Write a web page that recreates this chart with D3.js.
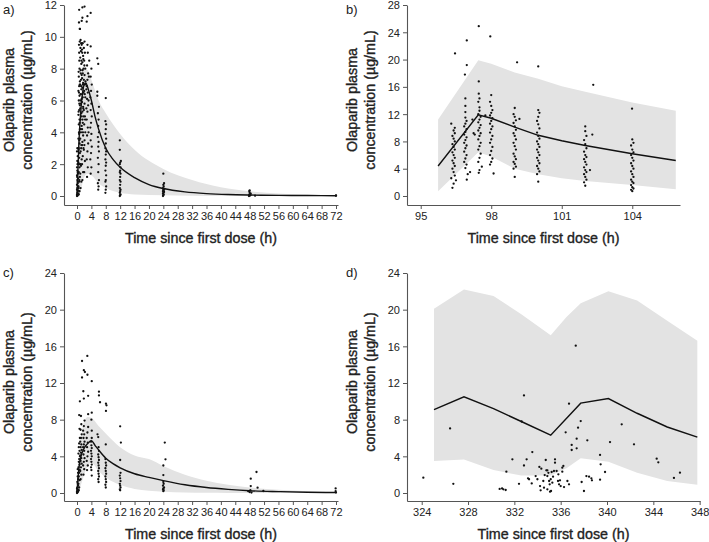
<!DOCTYPE html>
<html><head><meta charset="utf-8">
<script src="https://cdn.jsdelivr.net/npm/d3@7"></script>
<style>body{margin:0;background:#fff} svg{display:block}</style></head>
<body>
<svg id="chart" width="709" height="542"></svg>
<script>
// ---------- Panel a) : single dose, 0-72 h ----------
const aPoints = [
[0,0],[0.1,0.02],[0.2,0.05],[0,0.1],[0.3,0.15],[0.1,0.2],[0.2,0.3],[0,0.4],[0.1,0.5],[0.3,0.6],[0,0.7],[0.2,0.8],[0.1,1.0],[0.3,1.1],[0,1.3],[0.2,1.5],[0.1,1.6],[0,1.8],[0.3,2.0],[0.1,2.2],[0.2,2.5],[0,2.8],[0.1,3.0],
[0.3,0.35],[0.2,0.9],[0.05,1.2],[0.25,1.4],[0.15,2.0],
[0.5,0.1],[0.7,0.3],[0.4,0.6],[0.6,0.9],[0.8,1.2],[0.5,1.5],[0.7,1.8],[0.4,2.1],[0.6,2.4],[0.8,2.7],[0.5,3.0],[0.7,3.3],[0.4,3.6],[0.6,3.9],[0.8,4.2],[0.5,4.5],[0.7,4.8],[0.4,5.1],[0.6,5.4],[0.8,5.7],[0.5,6.0],[0.7,6.3],[0.4,6.6],[0.6,6.9],[0.8,7.2],[0.5,7.5],[0.7,8.0],[0.6,9.0],[0.8,10.5],[0.55,10.9],[0.6,11.7],
[0.45,0.5],[0.65,1.0],[0.75,2.0],[0.45,2.9],[0.65,3.5],[0.55,4.0],[0.75,4.6],[0.45,5.3],[0.65,5.8],[0.55,6.5],[0.75,7.0],[0.45,7.8],[0.65,8.5],[0.55,9.5],[0.75,9.7],
[1.0,0.5],[1.2,0.9],[0.9,1.4],[1.1,1.9],[1.3,2.3],[1.0,2.8],[1.2,3.2],[0.9,3.6],[1.1,4.0],[1.3,4.4],[1.0,4.8],[1.2,5.2],[0.9,5.5],[1.1,5.8],[1.3,6.1],[1.0,6.4],[1.2,6.7],[0.9,7.0],[1.1,7.3],[1.3,7.6],[1.0,7.9],[1.2,8.3],[0.9,8.7],[1.1,9.1],[1.3,9.5],[1.0,9.8],[0.8,10.5],[1.3,11.0],
[0.95,2.0],[1.15,3.0],[1.05,4.2],[1.25,5.0],[0.95,6.0],[1.15,6.9],[1.05,7.7],[1.25,8.5],[0.95,9.3],[1.15,9.6],
[1.5,1.0],[1.7,1.5],[1.4,2.0],[1.6,2.5],[1.8,3.0],[1.5,3.4],[1.7,3.8],[1.4,4.2],[1.6,4.6],[1.8,5.0],[1.5,5.3],[1.7,5.6],[1.4,5.9],[1.6,6.2],[1.8,6.5],[1.5,6.8],[1.7,7.1],[1.4,7.4],[1.6,7.7],[1.8,8.0],[1.5,8.4],[1.7,8.8],[1.4,9.2],[1.6,9.6],[1.5,11.2],[1.5,11.85],
[1.45,3.2],[1.65,4.0],[1.55,4.8],[1.75,5.5],[1.45,6.4],[1.65,7.0],[1.55,7.9],[1.75,8.6],[1.45,9.0],
[2.0,1.5],[2.2,2.2],[1.9,2.9],[2.1,3.5],[2.3,4.0],[2.0,4.5],[2.2,5.0],[1.9,5.4],[2.1,5.8],[2.3,6.2],[2.0,6.6],[2.2,7.0],[1.9,7.3],[2.1,7.6],[2.3,8.0],[2.0,8.5],[2.2,9.0],[1.9,9.3],[2.1,9.7],[2.1,11.9],
[2.05,3.2],[2.25,4.8],[2.15,6.4],[2.35,7.2],[2.05,8.2],[2.6,5.5],[2.6,6.7],
[2.8,1.2],[3.0,1.8],[2.7,2.3],[2.9,2.8],[3.1,3.3],[2.8,3.8],[3.0,4.3],[2.7,4.8],[2.9,5.3],[3.1,5.7],[2.8,6.1],[3.0,6.5],[2.7,6.9],[2.9,7.3],[3.1,7.7],[2.8,8.2],[3.0,9.0],[2.9,9.5],[2.7,10.95],[2.9,11.3],
[3.2,4.0],[3.2,6.0],[3.3,7.5],[3.4,8.5],
[3.8,1.4],[4.0,1.8],[3.7,2.3],[3.9,2.7],[4.1,3.1],[3.8,3.5],[4.0,3.9],[3.7,4.3],[3.9,4.6],[4.1,5.0],[3.8,5.4],[4.0,5.8],[3.7,6.2],[3.9,6.6],[4.1,7.0],[3.8,7.5],[4.0,8.0],[3.8,9.4],[3.8,11.5],
[5.9,0.4],[6.0,0.6],[5.8,0.8],[6.1,1.0],[5.9,1.5],[6.0,2.0],[5.8,2.4],[6.1,2.8],[5.9,3.1],[6.0,3.4],[5.8,3.7],[6.1,4.0],[5.9,4.4],[6.0,4.8],[5.8,5.2],[6.1,5.6],[5.65,6.3],[5.65,6.55],[5.9,8.3],[5.65,8.65],
[7.9,0.2],[8.0,0.4],[8.1,0.6],[7.9,0.9],[8.0,1.0],[8.1,1.3],[7.9,1.6],[8.0,1.9],[8.1,2.1],[7.9,2.3],[8.0,2.6],[8.1,2.8],[7.9,3.0],[8.0,3.3],[8.1,3.6],[7.9,3.9],[8.0,4.2],[8.1,4.5],[7.9,4.7],[8.0,6.15],
[11.9,0],[12.0,0.05],[12.1,0.1],[11.9,0.2],[12.0,0.3],[12.1,0.4],[11.9,0.5],[12.0,0.7],[12.1,0.9],[11.9,1.0],[12.0,1.2],[12.1,1.4],[11.9,1.5],[12.0,1.6],[12.1,1.8],[11.9,2.0],[12.0,2.1],[12.2,2.2],[11.9,2.9],[11.9,3.5],
[23.9,0],[24.0,0.05],[24.1,0.1],[23.9,0.15],[24.0,0.2],[24.2,0.25],[23.9,0.3],[24.1,0.35],[24.0,0.4],[24.3,0.45],[23.9,0.5],[24.1,0.6],[24.0,0.7],[24.2,0.8],[24.0,1.4],
[47.8,0],[48.0,0.02],[48.2,0.05],[47.9,0.08],[48.1,0.1],[48.3,0.15],[48.0,0.2],[47.9,0.3],[48.0,0.35],[49.5,0.02],
[72,0.02],[72,0.03]
];
const aBandT  = [0, 0.5, 1, 2, 3, 4, 6, 8, 12, 16, 24, 32, 40, 48, 56, 64, 72];
const aBandHi = [0, 3.0, 5.5, 8.0, 7.9, 7.3, 6.0, 5.2, 3.9, 2.9, 1.7, 1.0, 0.55, 0.3, 0.15, 0.08, 0.05];
const aBandLo = [0, 0, 0.3, 1.2, 1.4, 1.3, 0.8, 0.5, 0.2, 0.1, 0.05, 0.02, 0, 0, 0, 0, 0];
const aMedT = [0, 0.5, 1, 1.5, 2, 2.5, 3, 4, 5, 6, 8, 10, 12, 16, 20, 24, 30, 36, 42, 48, 56, 64, 72];
const aMedV = [0, 3.2, 5.2, 6.4, 7.0, 7.1, 6.8, 6.0, 5.0, 4.2, 3.0, 2.3, 1.8, 1.15, 0.72, 0.47, 0.26, 0.15, 0.09, 0.06, 0.04, 0.03, 0.02];
const aXTicks = [0,4,8,12,16,20,24,28,32,36,40,44,48,52,56,60,64,68,72];
const aYTicks = [0,2,4,6,8,10,12];

// ---------- Panel b) : steady state, 96-106 h ----------
const bPoints = [
[96.35,1.2],[96.4,1.8],[96.5,2.3],[96.3,2.6],[96.45,3.0],[96.4,3.5],[96.35,4.0],[96.45,4.4],[96.4,4.8],[96.35,5.2],[96.45,5.6],[96.4,6.0],[96.35,6.4],[96.45,6.8],[96.4,7.2],[96.35,7.6],[96.45,8.0],[96.4,8.4],[96.35,8.8],[96.45,9.2],[96.4,9.6],[96.45,10.0],[96.3,10.6],[96.46,20.9],
[96.96,2.4],[97.0,3.2],[97.1,3.5],[96.9,4.1],[96.95,4.6],[96.85,5.0],[96.9,5.5],[96.95,6.0],[96.85,6.5],[96.9,7.0],[96.95,7.4],[96.85,7.8],[96.9,8.2],[96.95,8.6],[96.85,9.0],[96.9,9.4],[96.95,9.8],[96.85,10.2],[96.9,10.6],[96.95,11.0],[96.9,11.5],[96.9,12.3],[96.9,13.2],[96.9,14.3],[96.88,17.8],[96.96,19.2],[96.96,22.8],[97.25,9.2],[97.2,11.2],[97.3,9.0],
[97.47,3.4],[97.5,3.8],[97.6,4.3],[97.45,5.0],[97.5,5.6],[97.55,6.2],[97.45,6.8],[97.5,7.3],[97.55,7.8],[97.45,8.3],[97.5,8.8],[97.55,9.2],[97.45,9.6],[97.5,10.0],[97.55,10.4],[97.45,10.8],[97.5,11.2],[97.55,11.6],[97.45,12.0],[97.5,12.5],[97.5,13.0],[97.45,13.8],[97.5,14.3],[97.47,15.0],[97.47,16.8],[97.47,24.9],
[98.1,3.3],[97.95,4.6],[98.0,5.0],[98.05,5.5],[97.95,6.0],[98.0,6.6],[98.05,7.2],[97.95,7.8],[98.0,8.3],[98.05,8.8],[97.95,9.3],[98.0,9.8],[98.05,10.2],[97.95,10.6],[98.0,11.0],[98.05,11.4],[97.95,11.8],[98.0,12.2],[98.05,12.6],[98.0,13.2],[97.95,13.8],[98.0,14.8],[97.96,23.4],[97.75,11.8],
[99.0,2.8],[98.95,4.0],[99.05,4.3],[99.0,4.7],[98.95,5.0],[99.05,5.4],[99.0,5.8],[98.95,6.2],[99.05,6.8],[99.0,7.3],[98.95,7.8],[99.05,8.3],[99.0,8.8],[98.95,9.2],[99.05,9.7],[99.0,10.2],[98.95,10.7],[99.05,11.1],[99.0,11.6],[98.95,12.0],[99.0,12.9],[99.1,19.6],[99.2,11.3],
[100.0,2.1],[99.95,3.2],[100.05,3.6],[100.0,4.0],[99.95,4.4],[100.05,4.8],[100.0,5.2],[99.95,5.6],[100.05,6.0],[100.0,6.4],[99.95,6.8],[100.05,7.2],[100.0,7.6],[99.95,8.0],[100.05,8.4],[100.0,8.8],[99.95,9.3],[100.05,9.9],[100.0,10.5],[99.95,11.0],[100.0,11.6],[100.05,12.2],[100.0,12.6],[100.0,19.0],
[102.0,1.5],[101.95,2.0],[102.05,2.4],[102.0,2.8],[101.95,3.2],[102.05,3.5],[102.0,3.8],[101.95,4.2],[102.05,4.6],[102.0,5.0],[101.95,5.4],[102.05,5.7],[102.0,6.0],[101.95,6.5],[102.05,7.0],[102.0,7.6],[101.95,8.2],[102.05,8.8],[102.0,9.5],[102.0,10.2],[102.3,9.0],[102.34,16.3],[102.2,3.8],
[104.0,0.7],[103.95,0.9],[104.05,1.1],[104.0,1.3],[103.95,1.6],[104.05,1.9],[104.0,2.1],[103.95,2.4],[104.05,2.8],[104.0,3.2],[103.95,3.6],[104.05,4.0],[104.0,4.4],[103.95,4.8],[104.05,5.2],[104.0,5.6],[103.95,6.0],[104.05,6.4],[104.0,6.8],[103.95,7.4],[104.05,7.8],[104.0,8.3],[103.99,12.8]
];
const bBandT  = [95.74, 97.45, 98.0, 99.0, 100.0, 101.0, 102.0, 104.0, 105.85];
const bBandHi = [11.2, 19.9, 19.4, 18.1, 17.2, 16.1, 15.3, 13.7, 12.5];
const bBandLo = [0.7, 6.4, 5.8, 4.0, 3.2, 2.6, 2.2, 1.6, 1.0];
const bMedT = [95.74, 97.45, 98.0, 99.0, 100.0, 101.0, 102.0, 104.0, 105.85];
const bMedV = [4.4, 11.9, 11.4, 10.1, 8.9, 8.1, 7.4, 6.2, 5.2];
const bXTicks = [95, 98, 101, 104];
const bYTicks = [0,4,8,12,16,20,24,28];

// ---------- Panel c) : single dose, 0-72 h ----------
const cPoints = [
[0,0],[0.1,0.05],[0.2,0.1],[0,0.15],[0.3,0.2],[0.1,0.3],[0.2,0.4],[0,0.5],[0.1,0.6],[0.3,0.8],[0.2,1.0],[0.1,1.2],[0.3,1.5],[0.2,1.8],[0.3,2.2],[0.2,2.6],
[0.5,0.3],[0.6,0.6],[0.4,1.0],[0.7,1.4],[0.5,1.8],[0.6,2.2],[0.8,2.5],[0.4,2.8],[0.7,3.1],[0.5,3.4],[0.6,3.7],[0.8,4.0],[0.4,4.3],[0.7,4.6],[0.5,5.0],[0.6,5.4],[0.8,6.0],[0.7,7.0],[0.6,8.5],[0.8,10.0],
[1.0,1.5],[1.2,2.0],[0.9,2.4],[1.1,2.8],[1.3,3.2],[1.0,3.5],[1.2,3.8],[0.9,4.1],[1.1,4.4],[1.3,4.7],[1.0,5.0],[1.2,5.3],[0.9,5.6],[1.1,6.0],[1.3,6.4],[1.0,6.9],[1.2,7.5],[1.1,8.4],[1.4,12.6],[1.4,14.4],
[1.8,2.0],[2.0,2.6],[1.7,3.0],[1.9,3.4],[2.1,3.8],[1.8,4.2],[2.0,4.6],[1.7,5.0],[1.9,5.3],[2.1,5.6],[1.8,6.0],[2.0,6.4],[1.7,6.8],[1.9,7.3],[2.1,7.9],[1.9,10.3],[1.76,11.1],[2.2,13.2],[1.9,13.4],
[2.8,2.5],[3.0,3.0],[2.7,3.5],[2.9,4.0],[3.1,4.5],[2.8,5.0],[3.0,5.5],[2.7,6.0],[2.9,6.6],[3.1,7.2],[3.1,8.6],[3.1,10.6],[2.9,12.9],[2.87,14.95],
[4.1,1.9],[4.0,2.5],[3.9,2.8],[4.1,3.1],[4.0,3.4],[3.9,3.7],[4.1,4.0],[4.0,4.3],[3.9,4.6],[4.1,4.9],[4.0,5.2],[3.9,5.6],[4.1,6.0],[4.1,6.8],[4.0,8.0],[4.1,8.76],[4.1,12.2],
[6.0,1.2],[5.9,1.5],[6.1,1.8],[6.0,2.1],[5.9,2.4],[6.1,2.7],[6.0,3.0],[5.9,3.3],[6.1,3.6],[6.0,3.9],[5.9,4.2],[6.1,4.6],[6.0,5.0],[5.9,6.1],[5.7,6.4],[6.4,9.9],[6.1,10.65],[6.1,11.05],
[8.0,0.6],[7.9,0.9],[8.1,1.2],[8.0,1.5],[7.9,1.8],[8.1,2.1],[8.0,2.4],[7.9,2.7],[8.1,3.0],[8.0,3.3],[7.9,3.7],[8.0,5.3],[8.05,8.95],[8.2,9.56],[8.05,9.75],
[12.0,0.3],[11.9,0.4],[12.1,0.6],[12.0,0.8],[11.9,1.0],[12.1,1.3],[12.0,1.6],[11.9,1.9],[12.1,2.2],[12.0,3.6],[12.2,5.5],[12.0,7.27],
[24.0,0.2],[24.1,0.3],[23.9,0.4],[24.0,0.5],[24.2,0.6],[23.9,0.8],[24.1,1.0],[24.0,1.2],[24.0,1.96],[24.0,3.0],[24.6,3.67],[24.4,5.5],
[47.6,0.2],[48,0.1],[48.2,0.3],[48.3,0.76],[48.3,1.56],[48.5,0.05],[49.9,2.29],[50.2,0.58],[51.8,0.22],
[71.9,0.5],[71.9,0.2],[72,0.05]
];
const cBandT  = [0, 0.5, 1, 2, 3, 4, 6, 8, 12, 16, 20, 24, 30, 36, 42, 48, 56, 64, 72];
const cBandHi = [0, 3.0, 5.5, 7.8, 8.3, 8.2, 7.3, 6.5, 5.0, 4.1, 3.7, 2.95, 2.0, 1.35, 0.9, 0.6, 0.35, 0.2, 0.12];
const cBandLo = [0, 0.2, 0.8, 2.0, 3.0, 3.3, 2.4, 1.7, 0.9, 0.45, 0.25, 0.15, 0.05, 0.02, 0, 0, 0, 0, 0];
const cMedT = [0, 0.5, 1, 2, 3, 4, 5, 6, 8, 10, 12, 16, 20, 24, 30, 36, 42, 48, 56, 64, 72];
const cMedV = [0, 2.6, 3.8, 4.9, 5.4, 5.7, 5.2, 4.7, 3.8, 3.2, 2.75, 2.1, 1.7, 1.35, 0.9, 0.6, 0.4, 0.25, 0.15, 0.08, 0.05];
const cXTicks = [0,4,8,12,16,20,24,28,32,36,40,44,48,52,56,60,64,68,72];
const cYTicks = [0,4,8,12,16,20,24];

// ---------- Panel d) : 324-348 h ----------
const dPoints = [
[324.14,1.67],[326.45,7.05],[326.73,1.0],[330.73,0.44],[330.94,0.5],[331.05,0.4],[331.25,0.33],[331.31,2.33],[331.83,3.67],[332.40,1.0],
[332.63,7.8],[332.83,10.65],[332.83,3.0],[333.06,3.67],[333.18,1.6],[333.27,1.5],[333.55,4.47],[333.5,1.05],[333.84,1.85],[333.99,1.5],
[334.16,2.84],[334.33,2.65],[334.22,0.76],[334.27,0.29],[334.5,1.31],[334.56,0.58],[334.62,1.96],[334.71,3.6],[334.76,2.47],[334.85,2.47],
[334.85,1.85],[334.94,2.2],[335.0,1.31],[335.05,0.95],[334.85,0.4],[335.08,0.15],[335.17,0.22],[335.14,1.5],[335.22,2.29],[335.34,1.78],
[335.42,2.4],[335.28,1.13],[335.51,3.67],[335.51,3.31],[335.65,2.4],[335.8,2.04],[335.77,1.31],[335.86,0.95],[335.94,1.38],[336.0,0.76],
[336.14,2.33],[336.23,2.95],[336.14,2.76],[336.29,0.65],[336.43,6.62],[336.58,1.31],[336.72,0.95],[336.72,9.75],[336.95,5.24],[336.95,4.69],
[337.30,16.07],[337.38,4.87],[337.38,5.93],[337.5,7.13],[337.73,7.85],[337.81,1.2],[338.01,0.22],[338.22,1.85],[338.30,5.75],[338.45,1.78],
[338.65,1.6],[338.7,1.38],[339.4,4.15],[339.45,3.13],[339.4,1.45],[339.83,2.29],[340.26,5.56],[341.27,7.49],[342.33,5.31],[344.29,3.75],
[344.43,3.35],[345.78,1.64],[346.30,2.22]
];
const dBandT  = [325.06, 327.65, 330.2, 332.6, 335.14, 336.5, 337.73, 340.12, 342.6, 345.2, 347.8];
const dBandHi = [20.1, 22.2, 21.5, 19.5, 17.2, 19.2, 20.7, 22.0, 21.0, 18.8, 16.6];
const dBandLo = [3.5, 3.65, 2.5, 1.9, 1.9, 2.7, 3.8, 3.4, 2.2, 1.3, 0.9];
const dMedT = [325.06, 327.65, 330.2, 332.6, 335.14, 337.73, 340.12, 342.6, 345.2, 347.8];
const dMedV = [9.1, 10.5, 9.2, 7.8, 6.3, 9.8, 10.3, 8.7, 7.2, 6.1];
const dXTicks = [324,328,332,336,340,344,348];
const dYTicks = [0,4,8,12,16,20,24];

const panelLabels = ["a)", "b)", "c)", "d)"];
const xTitle = "Time since first dose (h)";
const yTitle1 = "Olaparib plasma";
const yTitle2 = "concentration (\u00b5g/mL)";

// ---------- drawing ----------
const FONT = '"Liberation Sans", Arial, Helvetica, sans-serif';
const svg = d3.select('#chart');
svg.append('rect').attr('width',709).attr('height',542).attr('fill','#fff');

function panel(cfg){
  const g = svg.append('g');
  const x = d3.scaleLinear().domain(cfg.xDomain).range(cfg.xRange);
  const y = d3.scaleLinear().domain(cfg.yDomain).range(cfg.yRange);

  const band = cfg.bandT.map((t,i)=>({t, lo:cfg.bandLo[i], hi:cfg.bandHi[i]}));
  g.append('path').datum(band)
    .attr('d', d3.area().x(d=>x(d.t)).y0(d=>y(d.lo)).y1(d=>y(d.hi)).curve(cfg.curve))
    .attr('fill','#e3e3e3');

  g.append('g').selectAll('circle').data(cfg.points).join('circle')
    .attr('cx', d=>x(d[0])).attr('cy', d=>y(d[1])).attr('r',1.15).attr('fill','#111');

  const med = cfg.medT.map((t,i)=>[t, cfg.medV[i]]);
  g.append('path').datum(med)
    .attr('d', d3.line().x(d=>x(d[0])).y(d=>y(d[1])).curve(cfg.curve))
    .attr('fill','none').attr('stroke','#111').attr('stroke-width',1.4);

  const xa = g.append('g').attr('transform',`translate(0,${cfg.yRange[0]})`)
    .call(d3.axisBottom(x).tickValues(cfg.xTicks).tickSize(4).tickSizeOuter(0).tickPadding(3).tickFormat(d3.format('d')));
  const ya = g.append('g').attr('transform',`translate(${cfg.xRange[0]},0)`)
    .call(d3.axisLeft(y).tickValues(cfg.yTicks).tickSize(4).tickSizeOuter(0).tickPadding(3).tickFormat(d3.format('d')));
  [xa, ya].forEach(a=>{
    a.selectAll('path.domain').attr('stroke','#555').attr('stroke-width',1.1);
    a.selectAll('.tick line').attr('stroke','#555');
    a.selectAll('.tick text').attr('fill','#222').style('font-family',FONT).style('font-size','11px');
  });
  ya.selectAll('.tick text').attr('dy','0.36em');

  const midX = (cfg.xRange[0]+cfg.xRange[1])/2;
  g.append('text').attr('x', midX).attr('y', cfg.yRange[0]+38)
    .attr('text-anchor','middle').attr('fill','#222').attr('stroke','#222').attr('stroke-width',0.35)
    .style('font-family',FONT).style('font-size','14.3px').text(xTitle);
  const midY = (cfg.yRange[0]+cfg.yRange[1])/2 - 5;
  [[yTitle1, -50],[yTitle2, -32]].forEach(([txt,off])=>{
    g.append('text').attr('transform',`translate(${cfg.xRange[0]+off},${midY}) rotate(-90)`)
      .attr('text-anchor','middle').attr('fill','#222').attr('stroke','#222').attr('stroke-width',0.35)
      .style('font-family',FONT).style('font-size','14.3px').text(txt);
  });
  g.append('text').attr('x', cfg.labelX).attr('y', cfg.labelY).attr('fill','#222')
    .style('font-family',FONT).style('font-size','13px').text(cfg.label);
}

const monotone = d3.curveMonotoneX;
panel({points:aPoints, bandT:aBandT, bandLo:aBandLo, bandHi:aBandHi, medT:aMedT, medV:aMedV,
  xTicks:aXTicks, yTicks:aYTicks, xDomain:[-13/3.597, 72+2/3.597], xRange:[64,338],
  yDomain:[-9/15.92, 12], yRange:[205,5], curve:monotone, label:panelLabels[0], labelX:3, labelY:14});
panel({points:bPoints, bandT:bBandT, bandLo:bBandLo, bandHi:bBandHi, medT:bMedT, medV:bMedV,
  xTicks:bXTicks, yTicks:bYTicks, xDomain:[94.417, 106.03], xRange:[407,680],
  yDomain:[-9/6.821, 28], yRange:[205,5], curve:d3.curveLinear, label:panelLabels[1], labelX:346, labelY:14});
panel({points:cPoints, bandT:cBandT, bandLo:cBandLo, bandHi:cBandHi, medT:cMedT, medV:cMedV,
  xTicks:cXTicks, yTicks:cYTicks, xDomain:[-13/3.597, 72+2/3.597], xRange:[64,338],
  yDomain:[-8/9.167, 24], yRange:[501,273], curve:monotone, label:panelLabels[2], labelX:3, labelY:277});
panel({points:dPoints, bandT:dBandT, bandLo:dBandLo, bandHi:dBandHi, medT:dMedT, medV:dMedV,
  xTicks:dXTicks, yTicks:dYTicks, xDomain:[322.73, 348.03], xRange:[407,700],
  yDomain:[-8/9.167, 24], yRange:[501,273], curve:d3.curveLinear, label:panelLabels[3], labelX:346, labelY:277});
</script>
</body></html>
